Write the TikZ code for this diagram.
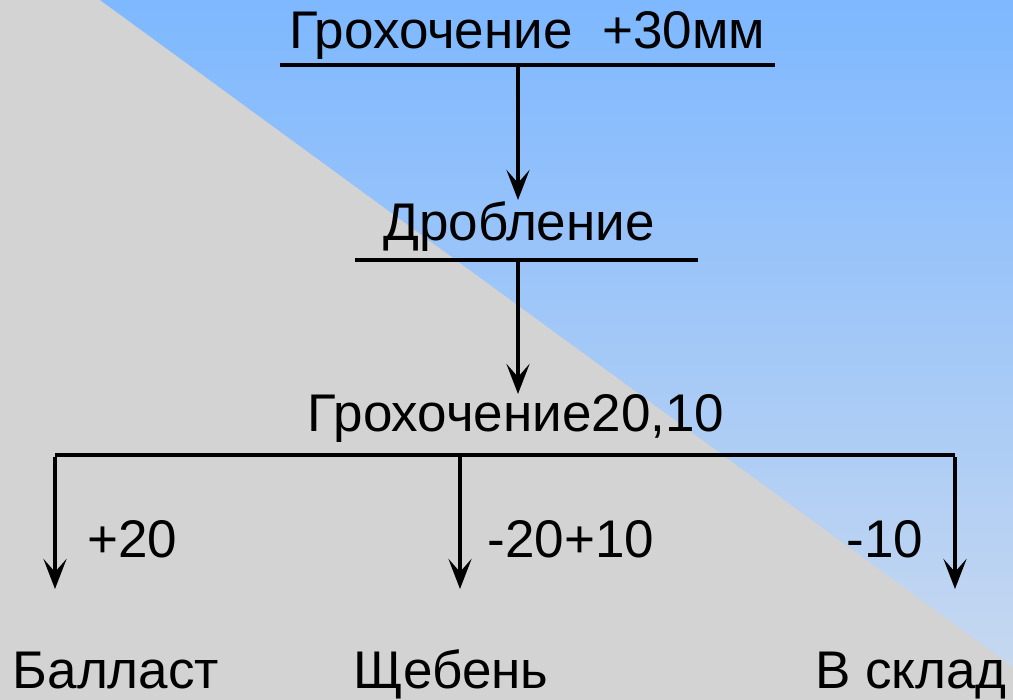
\documentclass[tikz,border=0pt]{standalone}
\usepackage{fontspec}
\setmainfont{Liberation Sans}
\usetikzlibrary{arrows.meta}
\definecolor{bggray}{RGB}{211,211,211}
\definecolor{bluetop}{RGB}{126,184,255}
\definecolor{bluebot}{RGB}{198,216,240}
\tikzset{
  lbl/.style={font=\fontsize{53}{58}\selectfont, anchor=base, inner sep=0pt},
  ln/.style={line width=4.5pt, black},
  arr/.style={line width=4.5pt, black, -{Stealth[length=30pt,width=23pt,inset=13pt]}},
}
\begin{document}
\begin{tikzpicture}[x=1pt,y=-1pt]
\useasboundingbox (0,0) rectangle (1013,700);
\fill[bggray] (0,0) rectangle (1013,700);
\shade[top color=bluetop, bottom color=bluebot] (100,0) -- (1013,0) -- (1013,667) -- cycle;
% texts
\node[lbl] (t1) at (527,49) {Грохочение\ \ +30мм};
\node[lbl] (t2) at (519,241) {Дробление};
\node[lbl] (t3) at (516,432) {Грохочение20,10};
\node[lbl] (l1) at (132,558) {+20};
\node[lbl] (l2) at (571,558) {-20+10};
\node[lbl] (l3) at (885,558) {-10};
\node[lbl] (b1) at (116,688) {Балласт};
\node[lbl] (b2) at (451,688) {Щебень};
\node[lbl] (b3) at (911,688) {В склад};
% coordinates
\coordinate (u1l) at (280,65);
\coordinate (u1r) at (775,65);
\coordinate (u1m) at (518,65);
\coordinate (a1) at (518,200);
\coordinate (u2l) at (355,260);
\coordinate (u2r) at (698,260);
\coordinate (u2m) at (518,260);
\coordinate (a2) at (518,394);
\coordinate (hl) at (55,455);
\coordinate (hm) at (460,455);
\coordinate (hr) at (955,455);
\coordinate (e1) at (55,589);
\coordinate (e2) at (460,589);
\coordinate (e3) at (955,589);
% lines
\draw[ln] (u1l) -- (u1r);
\draw[arr] (u1m) -- (a1);
\draw[ln] (u2l) -- (u2r);
\draw[arr] (u2m) -- (a2);
\draw[ln] (hl) -- (hr);
\draw[arr] ([yshift=-2.25pt]hl) -- (e1);
\draw[arr] (hm) -- (e2);
\draw[arr] ([yshift=-2.25pt]hr) -- (e3);
\end{tikzpicture}
\end{document}
